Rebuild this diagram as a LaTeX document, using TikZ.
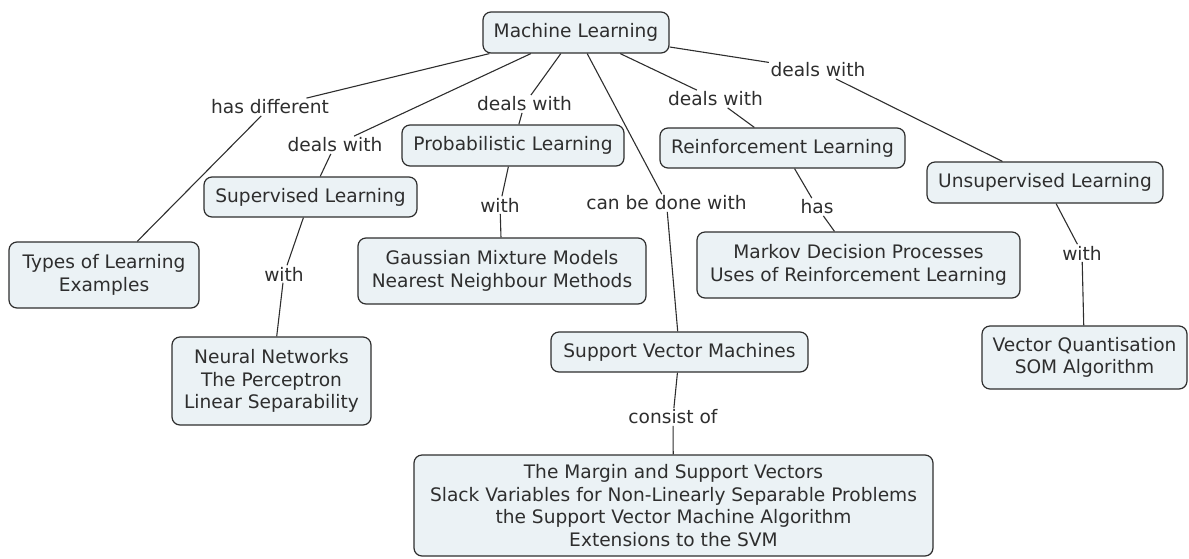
\documentclass[tikz,border=0pt]{standalone}
\usepackage{fontspec}
\setmainfont{DejaVu Sans}
\definecolor{boxfill}{HTML}{EBF2F5}
\definecolor{ink}{HTML}{2E2E2E}
\begin{document}
\begin{tikzpicture}[x=1pt,y=-1pt,
  concept/.style={draw=ink, line width=1.2pt, fill=boxfill, rounded corners=8pt,
    align=center, inner sep=0pt, text=ink,
    font=\fontsize{18.6}{22.5}\selectfont},
  linklabel/.style={inner sep=1.5pt, text=ink, font=\fontsize{18.6}{22.5}\selectfont},
  link/.style={draw=ink, line width=1.1pt}]
\useasboundingbox (0,0) rectangle (1189,558);

% concepts
\node[concept, minimum width=186pt, minimum height=41pt] (ml) at (576,32.5) {Machine Learning};
\node[concept, minimum width=222pt, minimum height=41pt] (prob) at (513,145.5) {Probabilistic Learning};
\node[concept, minimum width=245pt, minimum height=40pt] (reinf) at (782.5,148) {Reinforcement Learning};
\node[concept, minimum width=236pt, minimum height=41pt] (unsup) at (1045,182.5) {Unsupervised Learning};
\node[concept, minimum width=213pt, minimum height=40pt] (sup) at (310.5,197) {Supervised Learning};
\node[concept, minimum width=190pt, minimum height=66pt] (types) at (104,275) {Types of Learning\\Examples};
\node[concept, minimum width=288pt, minimum height=66pt] (gauss) at (502,271) {Gaussian Mixture Models\\Nearest Neighbour Methods};
\node[concept, minimum width=323pt, minimum height=66pt] (markov) at (858.5,265) {Markov Decision Processes\\Uses of Reinforcement Learning};
\node[concept, minimum width=205pt, minimum height=63pt] (vq) at (1084.5,357.5) {Vector Quantisation\\SOM Algorithm};
\node[concept, minimum width=199pt, minimum height=88pt] (nn) at (271.5,381) {Neural Networks\\The Perceptron\\Linear Separability};
\node[concept, minimum width=257pt, minimum height=40pt] (svm) at (679.5,352) {Support Vector Machines};
\node[concept, minimum width=519pt, minimum height=101pt] (svmc) at (673.5,505.5) {The Margin and Support Vectors\\Slack Variables for Non-Linearly Separable Problems\\the Support Vector Machine Algorithm\\Extensions to the SVM};

% link labels
\node[linklabel] (lt) at (270,107) {has different};
\node[linklabel] (ls) at (335,145) {deals with};
\node[linklabel] (lp) at (524.5,104) {deals with};
\node[linklabel] (lv) at (666.5,203) {can be done with};
\node[linklabel] (lr) at (715.5,99) {deals with};
\node[linklabel] (lu) at (818,70) {deals with};
\node[linklabel] (ln) at (284,274) {with};
\node[linklabel] (lg) at (500,205) {with};
\node[linklabel] (lm) at (817,207) {has};
\node[linklabel] (lq) at (1082,253) {with};
\node[linklabel] (lc) at (673,417) {consist of};

% connectors
\draw[link] (ml) -- (lt) -- (types);
\draw[link] (ml) -- (ls) -- (sup);
\draw[link] (ml) -- (lp) -- (prob);
\draw[link] (ml) -- (lv) -- (svm);
\draw[link] (ml) -- (lr) -- (reinf);
\draw[link] (ml) -- (lu) -- (unsup);
\draw[link] (sup) -- (ln) -- (nn);
\draw[link] (prob) -- (lg) -- (gauss);
\draw[link] (reinf) -- (lm) -- (markov);
\draw[link] (unsup) -- (lq) -- (vq);
\draw[link] (svm) -- (lc) -- (svmc);
\end{tikzpicture}
\end{document}
